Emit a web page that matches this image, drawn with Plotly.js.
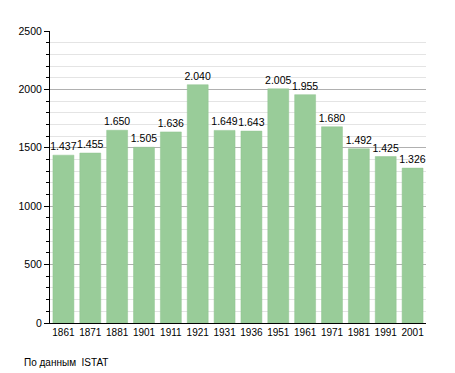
<!DOCTYPE html>
<html><head><meta charset="utf-8">
<script src="https://cdn.plot.ly/plotly-3.0.1.min.js"></script>
<style>body{margin:0;background:#fff}</style>
</head><body>
<div id="chart" style="width:455px;height:373px"></div>
<script>
const years = ["1861","1871","1881","1901","1911","1921","1931","1936","1951","1961","1971","1981","1991","2001"];
const population = [1437,1455,1650,1505,1636,2040,1649,1643,2005,1955,1680,1492,1425,1326];
const valueLabels = ["1.437","1.455","1.650","1.505","1.636","2.040","1.649","1.643","2.005","1.955","1.680","1.492","1.425","1.326"];
const yTicks = [0,500,1000,1500,2000,2500];
const sourceNote = "По данным  ISTAT";

const font = {family:"Liberation Sans, Arial, sans-serif", size:10, color:"#000"};
Plotly.newPlot("chart", [{
  type:"bar", x:years, y:population, text:valueLabels,
  textposition:"outside", cliponaxis:false, constraintext:"none",
  textfont:{family:font.family, size:10.5, color:"#000"},
  marker:{color:"#99cc99", line:{color:"#90c490", width:0.5}},
  hoverinfo:"none"
}], {
  width:455, height:373,
  margin:{l:50, r:29, t:31, b:50},
  paper_bgcolor:"#fff", plot_bgcolor:"#fff",
  font:font, showlegend:false, bargap:0.22,
  xaxis:{type:"category", showline:true, linecolor:"#000", linewidth:1,
         ticks:"", showgrid:false, tickfont:{size:10}, zeroline:false},
  yaxis:{range:[0,2500], tickvals:yTicks, ticktext:yTicks.map(String),
         showline:true, linecolor:"#000", linewidth:1,
         ticks:"outside", ticklen:5, tickcolor:"#000",
         gridcolor:"#b0b0b0", gridwidth:1, zeroline:false, tickfont:{size:10.5},
         minor:{dtick:100, ticks:"outside", ticklen:3, tickcolor:"#000",
                showgrid:true, gridcolor:"#e4e4e4", gridwidth:1}},
  annotations:[{text:sourceNote, xref:"paper", yref:"paper",
    x:-0.0745, y:-0.1336, xanchor:"left", yanchor:"middle", showarrow:false,
    font:{family:font.family, size:10, color:"#000"}}]
}, {displayModeBar:false, staticPlot:true});
</script>
</body></html>
